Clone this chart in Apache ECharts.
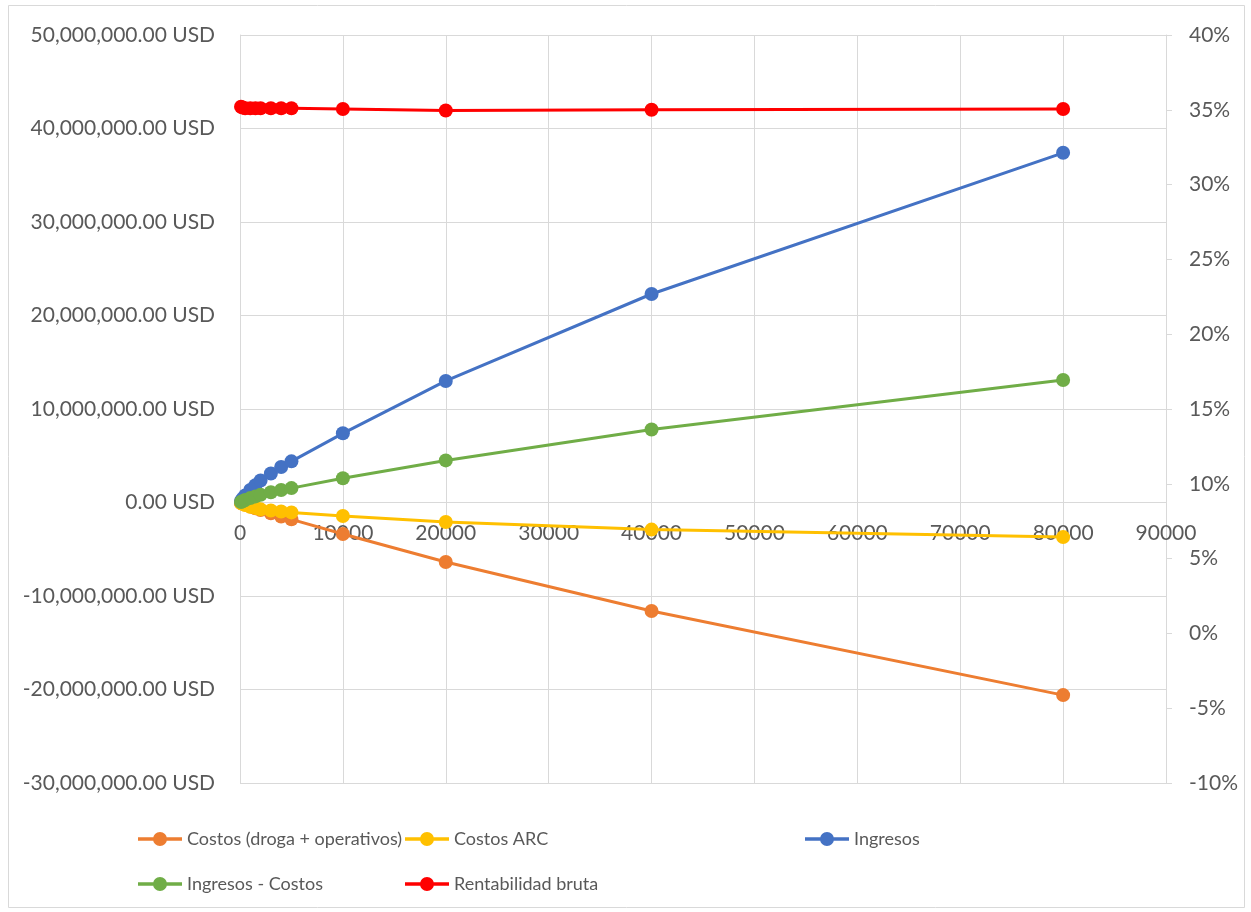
<!DOCTYPE html>
<html>
<head>
<meta charset="utf-8">
<script src="https://cdn.jsdelivr.net/npm/echarts@6/dist/echarts.min.js"></script>
<style>
  html, body { margin: 0; padding: 0; background: #ffffff; }
  #chart { width: 1251px; height: 912px; }
</style>
</head>
<body>
<div id="chart"></div>
<script>
// Units sold (x axis)
const unidades = [100, 250, 500, 1000, 1500, 2000, 3000, 4000, 5000, 10000, 20000, 40000, 80000];
// Amounts in USD
const costosDroga = [-50000, -120000, -220000, -420000, -620000, -800000, -1150000, -1500000, -1800000, -3370000, -6360000, -11600000, -20600000];
const costosArc = [-60000, -140000, -270000, -460000, -580000, -730000, -860000, -970000, -1060000, -1440000, -2090000, -2900000, -3700000];
const ingresos = [170000, 400000, 750000, 1350000, 1850000, 2350000, 3100000, 3800000, 4400000, 7400000, 13000000, 22300000, 37400000];
const margen = [60000, 140000, 260000, 470000, 650000, 820000, 1090000, 1330000, 1540000, 2590000, 4500000, 7800000, 13100000];
// Gross margin in percent (right axis)
const rentabilidad = [35.2, 35.15, 35.1, 35.1, 35.1, 35.1, 35.1, 35.1, 35.1, 35.05, 34.95, 35.0, 35.05];

const pair = (ys) => unidades.map((x, i) => [x, ys[i]]);

const FONT = 'Lato, "Noto Sans", sans-serif';
const TXT = '#595959';
const GRID = '#D9D9D9';
const AXIS_FS = 21;

// Plot area and the left (USD) scale
const GRID_TOP = 35, GRID_BOTTOM = 129, CHART_H = 912;
const USD_MIN = -30000000, USD_MAX = 50000000;
// Lift the category axis so it crosses the USD scale at zero
const plotH = CHART_H - GRID_TOP - GRID_BOTTOM;
const xAxisOffset = -plotH * (0 - USD_MIN) / (USD_MAX - USD_MIN);

const chart = echarts.init(document.getElementById('chart'), null, { renderer: 'canvas' });

function lineSeries(name, data, color, yIndex) {
  return {
    name: name,
    type: 'line',
    yAxisIndex: yIndex,
    data: data,
    smooth: false,
    symbol: 'circle',
    symbolSize: 14,
    lineStyle: { color: color, width: 3 },
    itemStyle: { color: color },
    emphasis: { disabled: true },
    animation: false
  };
}

function legendAt(name, left, top) {
  return {
    data: [name],
    left: left,
    top: top,
    padding: 0,
    icon: 'path://M0,6 L16,6 L16,9.5 L0,9.5 Z M28,6 L44,6 L44,9.5 L28,9.5 Z M15,7.75 A7,7 0 1,1 29,7.75 A7,7 0 1,1 15,7.75 Z',
    itemWidth: 44,
    itemHeight: 15,
    itemGap: 0,
    textStyle: { fontFamily: FONT, fontSize: 18, color: TXT },
    selectedMode: false
  };
}

const option = {
  backgroundColor: '#ffffff',
  animation: false,
  textStyle: { fontFamily: FONT },
  graphic: [{
    type: 'rect',
    shape: { x: 8.5, y: 5.5, width: 1236, height: 902 },
    style: { fill: 'none', stroke: GRID, lineWidth: 1 },
    silent: true,
    z: -10
  }],
  grid: { left: 240, right: 85, top: GRID_TOP, bottom: GRID_BOTTOM, containLabel: false },
  legend: [
    legendAt('Costos (droga + operativos)', 138, 830),
    legendAt('Costos ARC', 405, 830),
    legendAt('Ingresos', 805, 830),
    legendAt('Ingresos - Costos', 138, 875),
    legendAt('Rentabilidad bruta', 405, 875)
  ],
  xAxis: {
    type: 'value',
    min: 0,
    max: 90000,
    interval: 10000,
    offset: xAxisOffset,
    axisLine: { show: true, onZero: false, lineStyle: { color: GRID, width: 1 } },
    axisTick: { show: false },
    axisLabel: {
      color: TXT, fontSize: AXIS_FS, fontFamily: FONT, margin: 20,
      showMaxLabel: true, showMinLabel: true,
      formatter: (v) => String(v)
    },
    splitLine: { show: true, lineStyle: { color: GRID, width: 1 } }
  },
  yAxis: [
    {
      type: 'value',
      min: USD_MIN,
      max: USD_MAX,
      interval: 10000000,
      axisLine: { show: true, onZero: false, lineStyle: { color: GRID, width: 1 } },
      axisTick: { show: false },
      axisLabel: {
        color: TXT, fontSize: AXIS_FS, fontFamily: FONT, margin: 25,
        formatter: (v) => v.toLocaleString('en-US', { minimumFractionDigits: 2, maximumFractionDigits: 2 }) + ' USD'
      },
      splitLine: { show: true, lineStyle: { color: GRID, width: 1 } }
    },
    {
      type: 'value',
      position: 'right',
      min: -10,
      max: 40,
      interval: 5,
      axisLine: { show: true, onZero: false, lineStyle: { color: GRID, width: 1 } },
      axisTick: { show: true, inside: false, length: 6, lineStyle: { color: GRID } },
      axisLabel: { color: TXT, fontSize: AXIS_FS, fontFamily: FONT, margin: 23, formatter: '{value}%' },
      splitLine: { show: false }
    }
  ],
  series: [
    lineSeries('Costos (droga + operativos)', pair(costosDroga), '#ED7D31', 0),
    lineSeries('Costos ARC', pair(costosArc), '#FFC000', 0),
    lineSeries('Ingresos', pair(ingresos), '#4472C4', 0),
    lineSeries('Ingresos - Costos', pair(margen), '#70AD47', 0),
    lineSeries('Rentabilidad bruta', pair(rentabilidad), '#FF0000', 1)
  ]
};

chart.setOption(option);
</script>
</body>
</html>
